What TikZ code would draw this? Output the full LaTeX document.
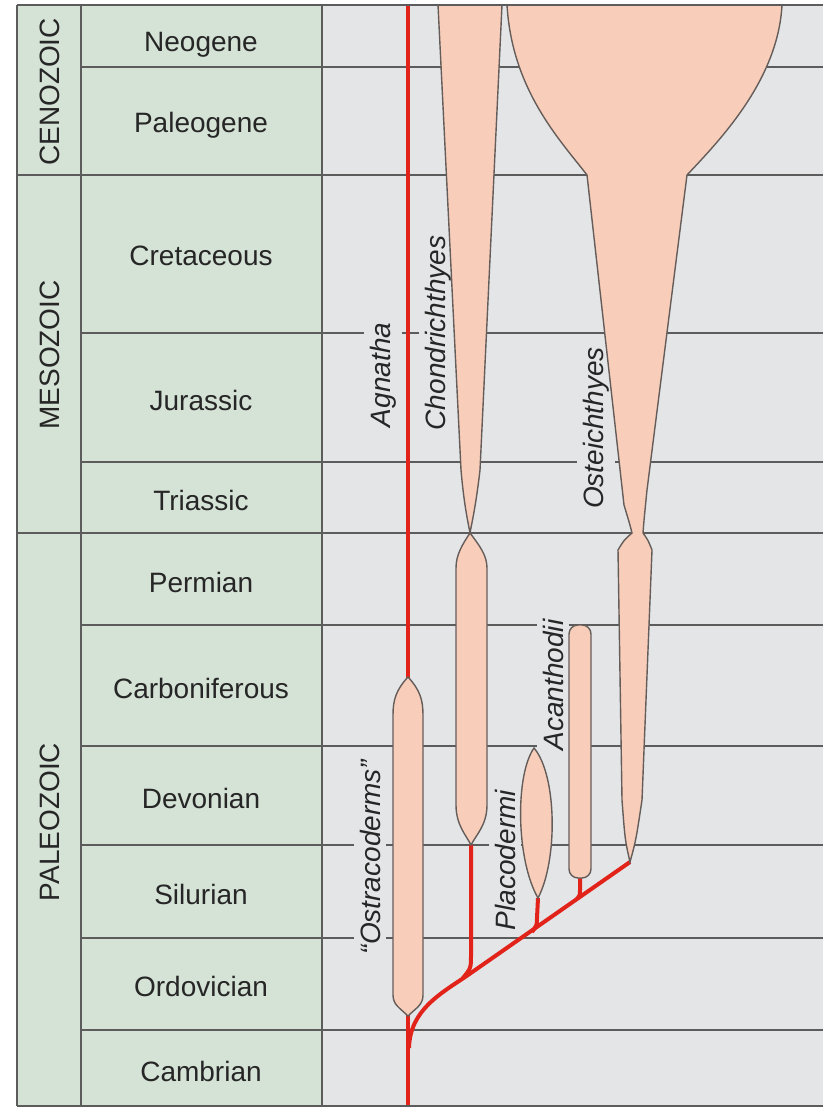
\documentclass[tikz,border=0pt]{standalone}
\usepackage{fontspec}
\setmainfont{Liberation Sans}

\definecolor{eracol}{HTML}{D5E2D6}
\definecolor{chartcol}{HTML}{E4E5E7}
\definecolor{fishcol}{HTML}{F8CDB9}
\definecolor{fishline}{HTML}{655D5A}
\definecolor{gridcol}{HTML}{5C5C5C}
\definecolor{lineagecol}{HTML}{E2231A}
\definecolor{labelcol}{HTML}{262626}

\tikzset{
  gridline/.style={gridcol, line width=1.5pt},
  taxon/.style={fill=fishcol, draw=fishline, line width=1.4pt},
  lineage/.style={lineagecol, line width=4pt},
  period/.style={font=\fontsize{28}{31}\selectfont, text=labelcol},
  era/.style={font=\fontsize{28}{31}\selectfont, text=labelcol, rotate=90},
  taxonlabel/.style={font=\fontsize{28}{31}\selectfont\itshape, text=labelcol,
    rotate=90, fill=chartcol, inner xsep=2pt, inner ysep=6pt},
}

\begin{document}
\begin{tikzpicture}[x=1pt,y=-1pt]
    \useasboundingbox (0,0) rectangle (825,1107);
    \fill[white] (0,0) rectangle (825,1107);

    % columns
    \fill[eracol] (17,5) rectangle (322,1106);
    \fill[chartcol] (322,5) rectangle (823,1106);

    % period and era boundaries
    \draw[gridline] (81,67) -- (823,67);
    \draw[gridline] (17,175) -- (823,175);
    \draw[gridline] (81,333) -- (823,333);
    \draw[gridline] (81,462) -- (823,462);
    \draw[gridline] (17,533) -- (823,533);
    \draw[gridline] (81,625) -- (823,625);
    \draw[gridline] (81,746) -- (823,746);
    \draw[gridline] (81,845) -- (823,845);
    \draw[gridline] (81,938) -- (823,938);
    \draw[gridline] (81,1030) -- (823,1030);
    \draw[gridline] (17,5) -- (17,1106);
    \draw[gridline] (81,5) -- (81,1106);
    \draw[gridline] (322,5) -- (322,1106);

    \node[era] (cenozoic) at (50,92) {CENOZOIC};
    \node[era] (mesozoic) at (50,355) {MESOZOIC};
    \node[era] (paleozoic) at (50,822) {PALEOZOIC};

    \node[period] (neogene) at (201,45) {Neogene};
    \node[period] (paleogene) at (201,125) {Paleogene};
    \node[period] (cretaceous) at (201,256) {Cretaceous};
    \node[period] (jurassic) at (201,400) {Jurassic};
    \node[period] (triassic) at (201,500) {Triassic};
    \node[period] (permian) at (201,582) {Permian};
    \node[period] (carboniferous) at (201,688) {Carboniferous};
    \node[period] (devonian) at (201,798) {Devonian};
    \node[period] (silurian) at (201,894) {Silurian};
    \node[period] (ordovician) at (201,986) {Ordovician};
    \node[period] (cambrian) at (201,1071) {Cambrian};

    \node[taxonlabel] (agnatha) at (383,375) {Agnatha};
    \node[taxonlabel] (chondrichthyes) at (438,333) {Chondrichthyes};
    \node[taxonlabel] (osteichthyes) at (596,428) {Osteichthyes};
    \node[taxonlabel] (acanthodii) at (553,685) {Acanthodii};
    \node[taxonlabel] (placodermi) at (505,860) {Placodermi};
    \node[taxonlabel] (ostracoderms) at (370,857) {``Ostracoderms''};

    % lineages
    \coordinate (trunk-top) at (408,5);
    \coordinate (trunk-bot) at (408,1107);
    \coordinate (fork) at (409,1048);
    \coordinate (chondr-tip) at (471,845);
    \coordinate (placo-tip) at (538,898);
    \coordinate (acanth-tip) at (580,878);
    \coordinate (osteich-tip) at (630,862);

    \draw[lineage] (trunk-top) -- (trunk-bot);
    \draw[lineage] (fork) .. controls (410,1010) and (440,994) .. (468,975) -- (osteich-tip);
    \draw[lineage] (chondr-tip) -- (471,955) .. controls (471,968) .. (463,978);
    \draw[lineage] (placo-tip) -- (537,918) .. controls (537,925) .. (532,932);
    \draw[lineage] (acanth-tip) -- (580,890) .. controls (580,895) .. (577,899);

    % clades
    \draw[taxon] (408,677) .. controls (396,690) and (393,700) .. (393,715)
        -- (393,995) .. controls (393,1005) and (400,1008) .. (408,1016)
        .. controls (416,1008) and (423,1005) .. (423,995)
        -- (423,715) .. controls (423,700) and (420,690) .. (408,677) -- cycle;

    \draw[taxon] (438,5) -- (461,470) .. controls (464,505) and (468,522) .. (470,533)
        .. controls (472,522) and (476,505) .. (480,470) -- (502,5) -- cycle;
    \draw[taxon] (470,533) .. controls (462,545) and (456,555) .. (456,568)
        -- (456,805) .. controls (456,825) and (466,835) .. (chondr-tip)
        .. controls (476,835) and (487,825) .. (487,805)
        -- (487,568) .. controls (487,555) and (479,545) .. (470,533) -- cycle;

    \draw[taxon] (507,5) .. controls (512,90) and (560,140) .. (587,175)
        -- (624,505) .. controls (630,525) .. (632,533)
        .. controls (624,540) .. (618,550)
        -- (622,800) .. controls (625,840) .. (osteich-tip)
        .. controls (636,840) .. (642,800)
        -- (652,550) .. controls (648,540) .. (643,533)
        .. controls (644,520) .. (647,490)
        -- (687,175) .. controls (720,140) and (778,80) .. (782,5) -- cycle;

    \draw[taxon, rounded corners=9pt] (569,625) rectangle (591,878);

    \draw[taxon] (534,748) .. controls (515,775) and (516,860) .. (placo-tip)
        .. controls (558,860) and (557,775) .. (534,748) -- cycle;

    % frame
    \draw[gridline] (17,5) -- (823,5);
    \draw[gridline] (17,1106) -- (823,1106);
\end{tikzpicture}
\end{document}
